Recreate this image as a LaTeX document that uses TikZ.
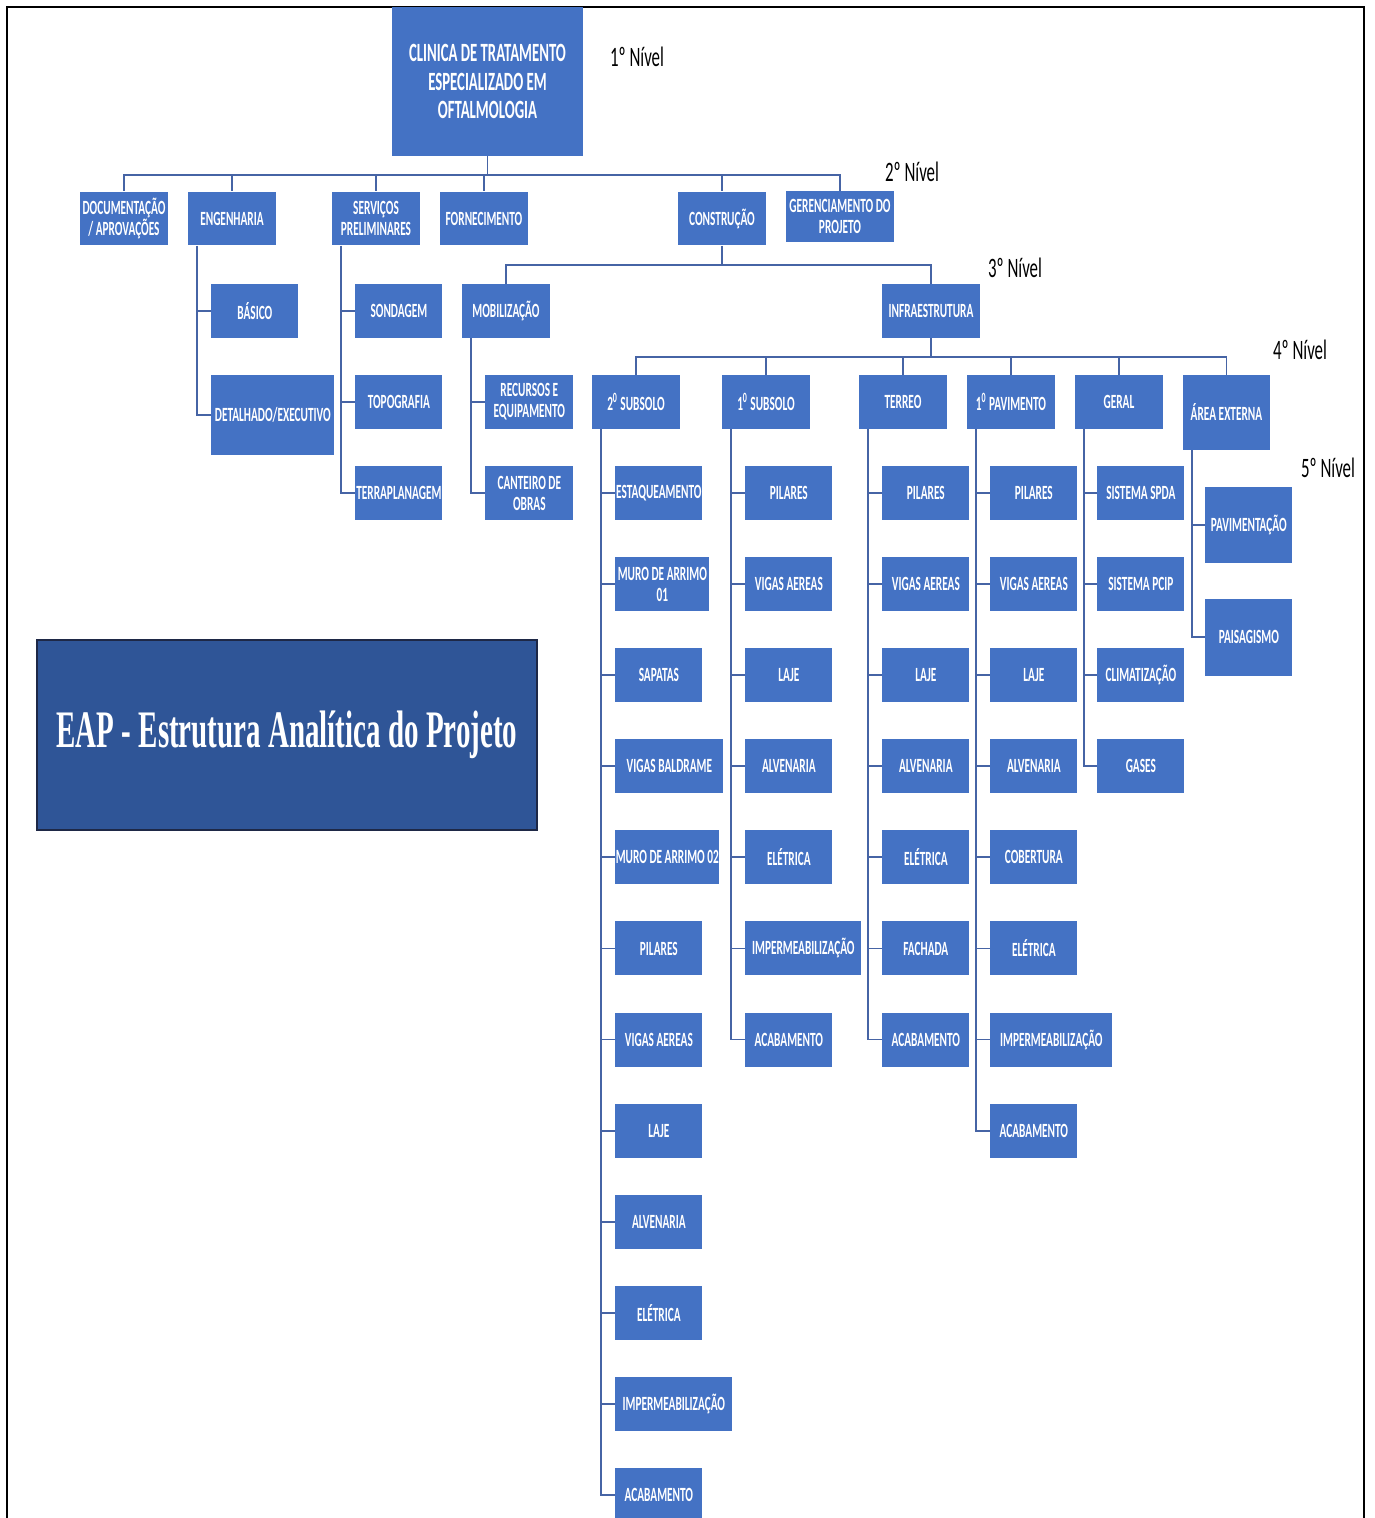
\documentclass[tikz,border=0pt]{standalone}
\usepackage{fontspec}
\setmainfont{Carlito}
\newfontfamily\boxfont[FakeStretch=0.56]{Carlito}
\newfontfamily\nivelfont[FakeStretch=0.6]{Carlito}
\newfontfamily\titlefont[FakeStretch=0.55]{Liberation Serif}
\usetikzlibrary{positioning}
\definecolor{wbsblue}{RGB}{68,114,196}
\definecolor{wbsline}{RGB}{70,100,165}
\definecolor{titleblue}{RGB}{47,85,151}
\definecolor{titleedge}{RGB}{30,40,70}

\begin{document}
\begin{tikzpicture}[
      x=0.02cm, y=-0.02cm,
      wbs/.style={rectangle, fill=wbsblue, text=white, align=center, inner xsep=0pt, inner ysep=1pt,
        minimum width=1.76cm, minimum height=1.08cm,
        font={\boxfont\bfseries\fontsize{11.5}{12}\selectfont}},
      link/.style={draw=wbsline, line width=1pt},
      nivel/.style={font={\nivelfont\fontsize{16}{16}\selectfont}, text=black},
      titlebox/.style={rectangle, fill=titleblue, draw=titleedge, line width=1.2pt,
        minimum width=10cm, minimum height=3.8cm, text=white,
        font={\titlefont\bfseries\fontsize{30}{30}\selectfont}}
    ]
      \useasboundingbox (0,0) rectangle (1375,1518);
      \clip (0,0) rectangle (1375,1518);
      \draw[line width=1.3pt] (7,1530) -- (7,7) -- (1364,7) -- (1364,1530);

      % 1o nivel
      \node[wbs, minimum width=3.82cm, minimum height=2.98cm,
        font={\boxfont\bfseries\fontsize{15}{16}\selectfont}] (root) at (487.5,81.5)
        {CLINICA DE TRATAMENTO\\ESPECIALIZADO EM\\OFTALMOLOGIA};
      \node[nivel] (n1) at (637,57) {1º Nível};

      % 2o nivel
      \node[wbs] (doc) at (124,218.5) {DOCUMENTAÇÃO\\/ APROVAÇÕES};
      \node[wbs] (eng) at (232,218.5) {ENGENHARIA};
      \node[wbs] (serv) at (376,218.5) {SERVIÇOS\\PRELIMINARES};
      \node[wbs] (forn) at (484,218.5) {FORNECIMENTO};
      \node[wbs] (cons) at (722,218.5) {CONSTRUÇÃO};
      \node[wbs, minimum width=2.16cm, minimum height=1.02cm] (ger) at (840,216.5) {GERENCIAMENTO DO\\PROJETO};
      \node[nivel] (n2) at (912,172) {2º Nível};
      \foreach \n in {doc,eng,serv,forn,cons,ger}
        \draw[link] (root.south) -- ++(0,19) -| (\n.north);

      % engenharia / servicos
      \node[wbs, anchor=west, minimum width=1.74cm] (bas) at (211,311) {BÁSICO};
      \node[wbs, anchor=west, minimum width=2.46cm, minimum height=1.62cm] (det) at (211,415) {DETALHADO/EXECUTIVO};
      \draw[link] ([xshift=0.18cm]eng.south west) |- (bas.west);
      \draw[link] ([xshift=0.18cm]eng.south west) |- (det.west);
      \foreach \txt/\nm/\y in {SONDAGEM/sond/311, TOPOGRAFIA/topo/402, TERRAPLANAGEM/terra/493}{
        \node[wbs, anchor=west, minimum width=1.74cm] (\nm) at (355,\y) {\txt};
        \draw[link] ([xshift=0.18cm]serv.south west) |- (\nm.west);
      }

      % 3o nivel
      \node[wbs] (mob) at (506,311) {MOBILIZAÇÃO};
      \node[wbs, minimum width=1.96cm] (infra) at (931,311) {INFRAESTRUTURA};
      \node[nivel] (n3) at (1015,268) {3º Nível};
      \draw[link] (cons.south) -- ++(0,19) -| (mob.north);
      \draw[link] (cons.south) -- ++(0,19) -| (infra.north);
      \node[wbs, anchor=west] (rec) at (485,402) {RECURSOS E\\EQUIPAMENTO};
      \node[wbs, anchor=west] (cant) at (485,493) {CANTEIRO DE\\OBRAS};
      \draw[link] ([xshift=0.18cm]mob.south west) |- (rec.west);
      \draw[link] ([xshift=0.18cm]mob.south west) |- (cant.west);

      % 4o nivel
      \node[wbs] (sub2) at (636,402) {2\textsuperscript{0} SUBSOLO};
      \node[wbs] (sub1) at (766,402) {1\textsuperscript{0} SUBSOLO};
      \node[wbs] (terr) at (903,402) {TERREO};
      \node[wbs] (pav) at (1011,402) {1\textsuperscript{0} PAVIMENTO};
      \node[wbs] (geral) at (1119,402) {GERAL};
      \node[wbs, minimum width=1.74cm, minimum height=1.5cm] (area) at (1226.5,412.5) {ÁREA EXTERNA};
      \node[nivel] (n4) at (1300,350) {4º Nível};
      \node[nivel] (n5) at (1328,468) {5º Nível};
      \foreach \n in {sub2,sub1,terr,pav,geral,area}
        \draw[link] (infra.south) -- ++(0,19) -| (\n.north);

      % 5o nivel
      \foreach \txt/\w [count=\i] in {ESTAQUEAMENTO/87, {MURO DE ARRIMO\\01}/94, SAPATAS/87,
          VIGAS BALDRAME/108, MURO DE ARRIMO 02/104, PILARES/87, VIGAS AEREAS/87, LAJE/87,
          ALVENARIA/87, ELÉTRICA/87, IMPERMEABILIZAÇÃO/117, ACABAMENTO/87}{
        \node[wbs, anchor=west, minimum width=\w*0.02cm] (s2-\i) at (615,{493+91.09*(\i-1)}) {\txt};
        \draw[link] ([xshift=0.18cm]sub2.south west) |- (s2-\i.west);
      }
      \foreach \txt/\w [count=\i] in {PILARES/87, VIGAS AEREAS/87, LAJE/87, ALVENARIA/87,
          ELÉTRICA/87, IMPERMEABILIZAÇÃO/116, ACABAMENTO/87}{
        \node[wbs, anchor=west, minimum width=\w*0.02cm] (s1-\i) at (745,{493+91.09*(\i-1)}) {\txt};
        \draw[link] ([xshift=0.18cm]sub1.south west) |- (s1-\i.west);
      }
      \foreach \txt [count=\i] in {PILARES, VIGAS AEREAS, LAJE, ALVENARIA, ELÉTRICA, FACHADA, ACABAMENTO}{
        \node[wbs, anchor=west, minimum width=1.74cm] (te-\i) at (882,{493+91.09*(\i-1)}) {\txt};
        \draw[link] ([xshift=0.18cm]terr.south west) |- (te-\i.west);
      }
      \foreach \txt/\w [count=\i] in {PILARES/87, VIGAS AEREAS/87, LAJE/87, ALVENARIA/87,
          COBERTURA/87, ELÉTRICA/87, IMPERMEABILIZAÇÃO/122, ACABAMENTO/87}{
        \node[wbs, anchor=west, minimum width=\w*0.02cm] (pa-\i) at (990,{493+91.09*(\i-1)}) {\txt};
        \draw[link] ([xshift=0.18cm]pav.south west) |- (pa-\i.west);
      }
      \foreach \txt [count=\i] in {SISTEMA SPDA, SISTEMA PCIP, CLIMATIZAÇÃO, GASES}{
        \node[wbs, anchor=west, minimum width=1.74cm] (ge-\i) at (1097,{493+91.09*(\i-1)}) {\txt};
        \draw[link] ([xshift=0.18cm]geral.south west) |- (ge-\i.west);
      }
      \node[wbs, anchor=west, minimum width=1.74cm, minimum height=1.52cm] (ae-1) at (1205,525) {PAVIMENTAÇÃO};
      \node[wbs, anchor=west, minimum width=1.74cm, minimum height=1.54cm] (ae-2) at (1205,637) {PAISAGISMO};
      \draw[link] ([xshift=0.18cm]area.south west) |- (ae-1.west);
      \draw[link] ([xshift=0.18cm]area.south west) |- (ae-2.west);

      % titulo
      \node[titlebox] (eap) at (287,735) {EAP - Estrutura Analítica do Projeto};
    \end{tikzpicture}
\end{document}
